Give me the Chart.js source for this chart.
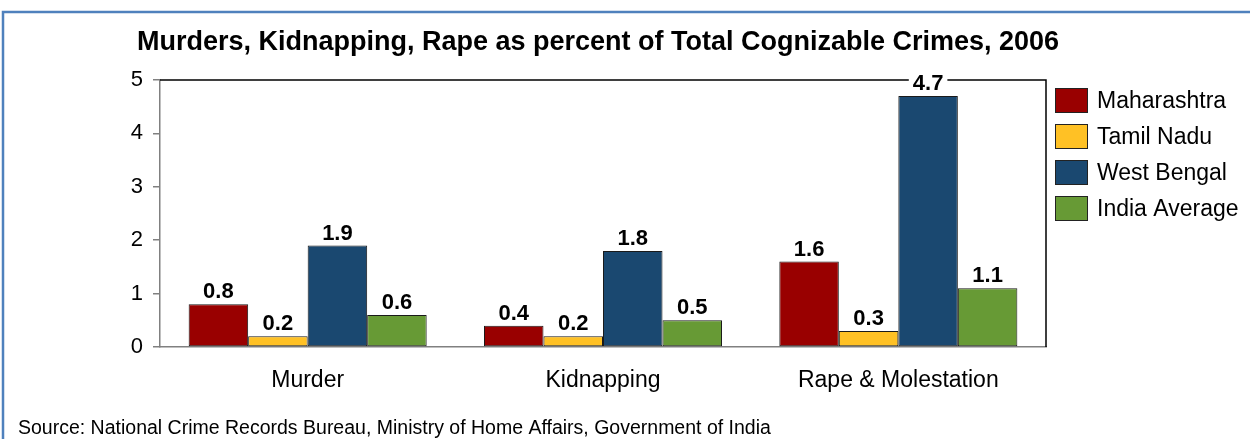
<!DOCTYPE html>
<html lang="en">
<head>
<meta charset="UTF-8">
<title>Crimes 2006</title>
<script src="https://cdn.jsdelivr.net/npm/chart.js@4"></script>
<style>
  body { margin: 0; background: #fff; }
  #wrap { width: 1250px; height: 439px; position: relative; }
</style>
</head>
<body>
<div id="wrap"><canvas id="myChart" width="1250" height="439"></canvas></div>
<script>

    // data
    let categories = ['Murder', 'Kidnapping', 'Rape & Molestation'];
    let seriesNames = ['Maharashtra', 'Tamil Nadu', 'West Bengal', 'India Average'];
    let maharashtra = [0.8, 0.4, 1.6];
    let tamilNadu = [0.2, 0.2, 0.3];
    let westBengal = [1.9, 1.8, 4.7];
    let indiaAverage = [0.6, 0.5, 1.1];
    let yTicks = [0, 1, 2, 3, 4, 5];

    let titleText = 'Murders, Kidnapping, Rape as percent of Total Cognizable Crimes, 2006';
    let sourceText = 'Source: National Crime Records Bureau, Ministry of Home Affairs, Government of India';

    let couleurs = ['#990000', '#FFC125', '#1A4870', '#679A35'];
    let police = 'Arial, "Liberation Sans", sans-serif';

    // dessine cadre, titre, legende, source, etiquettes
    let decorPlugin = {
        id: 'decor',
        afterDraw: (chart) => {
            let ctx = chart.ctx;
            let area = chart.chartArea;
            ctx.save();

            // cadre bleu (haut + gauche)
            ctx.strokeStyle = '#4F81BD';
            ctx.lineWidth = 2.5;
            ctx.beginPath();
            ctx.moveTo(3, 460);
            ctx.lineTo(3, 12);
            ctx.lineTo(1260, 12);
            ctx.stroke();

            // haut et droite de la zone
            ctx.strokeStyle = '#000';
            ctx.lineWidth = 1.5;
            ctx.beginPath();
            ctx.moveTo(area.left, area.top);
            ctx.lineTo(area.right, area.top);
            ctx.lineTo(area.right, area.bottom);
            ctx.stroke();

            // titre
            ctx.fillStyle = '#000';
            ctx.font = 'bold 27px ' + police;
            ctx.textAlign = 'center';
            ctx.textBaseline = 'alphabetic';
            ctx.fillText(titleText, 598, 50);

            // etiquettes des barres
            ctx.font = 'bold 22px ' + police;
            chart.data.datasets.forEach((ds, i) => {
                let meta = chart.getDatasetMeta(i);
                meta.data.forEach((bar, j) => {
                    let txt = ds.data[j].toFixed(1);
                    let w = ctx.measureText(txt).width;
                    let yb = bar.y - 6;
                    ctx.fillStyle = '#fff';
                    ctx.fillRect(bar.x - w / 2 - 4, yb - 17, w + 8, 19);
                    ctx.fillStyle = '#000';
                    ctx.fillText(txt, bar.x, yb);
                });
            });

            // legende
            ctx.textAlign = 'left';
            ctx.textBaseline = 'middle';
            ctx.font = '23px ' + police;
            chart.data.datasets.forEach((ds, i) => {
                let y = 88 + i * 36;
                ctx.fillStyle = ds.backgroundColor;
                ctx.fillRect(1055, y, 33, 25);
                ctx.strokeStyle = '#222';
                ctx.lineWidth = 1;
                ctx.strokeRect(1055.5, y + 0.5, 32, 24);
                ctx.fillStyle = '#000';
                ctx.fillText(ds.label, 1097, y + 14);
            });

            // source
            ctx.font = '19.5px ' + police;
            ctx.textBaseline = 'alphabetic';
            ctx.fillText(sourceText, 18, 434);

            ctx.restore();
        }
    };

    let datasets = [maharashtra, tamilNadu, westBengal, indiaAverage].map((valeurs, i) => {
        return {
            label: seriesNames[i],
            data: valeurs,
            backgroundColor: couleurs[i],
            borderColor: '#1a1a1a',
            borderWidth: 1,
            borderSkipped: false,
            barPercentage: 1.0,
            categoryPercentage: 0.806
        };
    });

    let ctx = document.getElementById('myChart').getContext('2d');
    let chart = new Chart(ctx, {
        type: 'bar',
        data: {
            labels: categories,
            datasets: datasets
        },
        options: {
            responsive: false,
            animation: false,
            layout: {
                padding: { left: 100, top: 80, right: 204, bottom: 42 }
            },
            plugins: {
                legend: { display: false },
                title: { display: false },
                tooltip: { enabled: false }
            },
            scales: {
                x: {
                    grid: { display: false, drawTicks: false },
                    border: { display: true, color: '#808080', width: 1.5 },
                    ticks: {
                        color: '#000',
                        padding: 20,
                        font: { size: 23, family: police }
                    },
                    afterFit: (axis) => { axis.height = 50; }
                },
                y: {
                    min: 0,
                    max: 5,
                    afterBuildTicks: (axis) => {
                        axis.ticks = yTicks.map(v => ({ value: v }));
                    },
                    grid: {
                        drawOnChartArea: false,
                        drawTicks: true,
                        tickLength: 7,
                        color: '#808080',
                        lineWidth: 1.5
                    },
                    border: { display: true, color: '#808080', width: 1.5 },
                    ticks: {
                        color: '#000',
                        padding: 10,
                        font: { size: 22, family: police }
                    },
                    afterFit: (axis) => { axis.width = 60; }
                }
            }
        },
        plugins: [decorPlugin]
    });

</script>
</body>
</html>
